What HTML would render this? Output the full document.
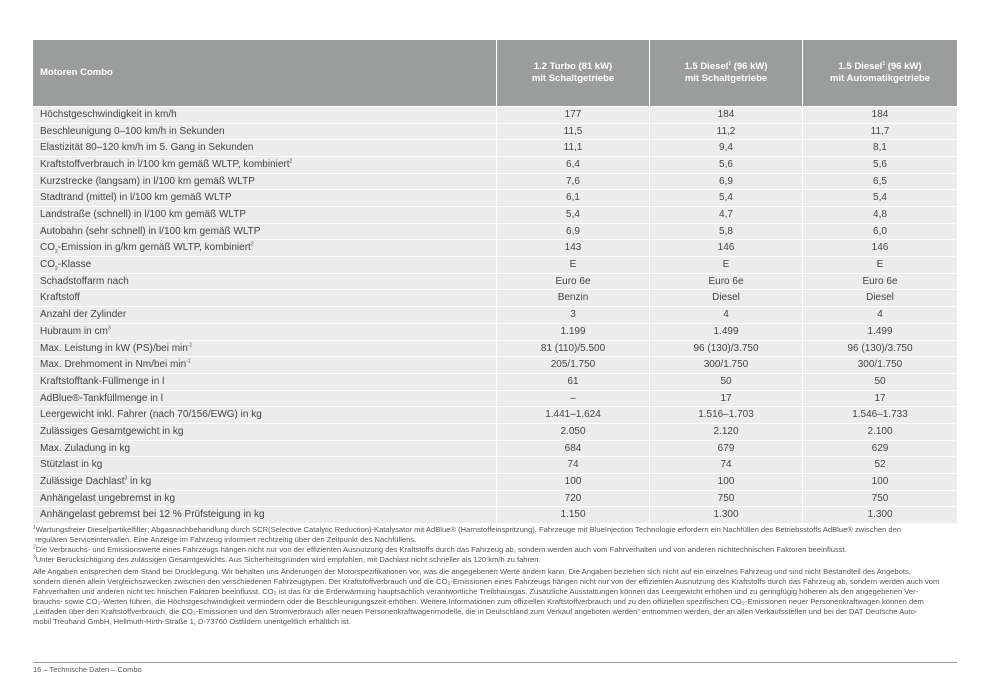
<!DOCTYPE html>
<html><head><meta charset="utf-8"><style>
body{margin:0;width:990px;height:700px;background:#fff;font-family:"Liberation Sans",sans-serif;position:relative;overflow:hidden;color:#444}
sup,sub{font-size:5px;line-height:0;vertical-align:super}
sub{vertical-align:sub}
.hd{position:absolute;top:40px;height:66px;background:#9b9c9c;color:#fff;font-weight:bold;font-size:9.5px;box-sizing:border-box}
.hd span{position:absolute;left:0;right:0;top:50%;transform:translateY(-50%);text-align:center;line-height:12px}
.r{position:absolute;left:33px;width:924px;height:15.7px;font-size:10px;color:#444}
.r div{position:absolute;top:0;height:15.7px;line-height:16px;background:#ececec;white-space:nowrap}
.c0{left:0;width:463px;padding-left:7px;box-sizing:border-box}
.c1{left:464px;width:152px;text-align:center}
.c2{left:617px;width:152px;text-align:center}
.c3{left:770px;width:154px;text-align:center}
.fn{position:absolute;left:33px;width:930px;font-size:7.6px;line-height:10px;color:#555;white-space:nowrap}
</style></head><body>
<div class="hd" style="left:33px;width:463px"><span style="text-align:left;padding-left:7px">Motoren Combo</span></div>
<div class="hd" style="left:497px;width:152px"><span>1.2 Turbo (81 kW)<br>mit Schaltgetriebe</span></div>
<div class="hd" style="left:650px;width:152px"><span>1.5 Diesel<sup>1</sup> (96 kW)<br>mit Schaltgetriebe</span></div>
<div class="hd" style="left:803px;width:154px"><span>1.5 Diesel<sup>1</sup> (96 kW)<br>mit Automatikgetriebe</span></div>
<div id="rows"></div>
<script>
var d=[["Höchstgeschwindigkeit in km/h","177","184","184"],
["Beschleunigung 0–100 km/h in Sekunden","11,5","11,2","11,7"],
["Elastizität 80–120 km/h im 5. Gang in Sekunden","11,1","9,4","8,1"],
["Kraftstoffverbrauch in l/100 km gemäß WLTP, kombiniert<sup>2</sup>","6,4","5,6","5,6"],
["Kurzstrecke (langsam) in l/100 km gemäß WLTP","7,6","6,9","6,5"],
["Stadtrand (mittel) in l/100 km gemäß WLTP","6,1","5,4","5,4"],
["Landstraße (schnell) in l/100 km gemäß WLTP","5,4","4,7","4,8"],
["Autobahn (sehr schnell) in l/100 km gemäß WLTP","6,9","5,8","6,0"],
["CO<sub>2</sub>-Emission in g/km gemäß WLTP, kombiniert<sup>2</sup>","143","146","146"],
["CO<sub>2</sub>-Klasse","E","E","E"],
["Schadstoffarm nach","Euro 6e","Euro 6e","Euro 6e"],
["Kraftstoff","Benzin","Diesel","Diesel"],
["Anzahl der Zylinder","3","4","4"],
["Hubraum in cm<sup>3</sup>","1.199","1.499","1.499"],
["Max. Leistung in kW (PS)/bei min<sup>-1</sup>","81 (110)/5.500","96 (130)/3.750","96 (130)/3.750"],
["Max. Drehmoment in Nm/bei min<sup>-1</sup>","205/1.750","300/1.750","300/1.750"],
["Kraftstofftank-Füllmenge in l","61","50","50"],
["AdBlue®-Tankfüllmenge in l","–","17","17"],
["Leergewicht inkl. Fahrer (nach 70/156/EWG) in kg","1.441–1.624","1.516–1.703","1.546–1.733"],
["Zulässiges Gesamtgewicht in kg","2.050","2.120","2.100"],
["Max. Zuladung in kg","684","679","629"],
["Stützlast in kg","74","74","52"],
["Zulässige Dachlast<sup>3</sup> in kg","100","100","100"],
["Anhängelast ungebremst in kg","720","750","750"],
["Anhängelast gebremst bei 12 % Prüfsteigung in kg","1.150","1.300","1.300"]];
var h="";for(var i=0;i<d.length;i++){var t=107+i*16.68;h+='<div class="r" style="top:'+t+'px"><div class="c0">'+d[i][0]+'</div><div class="c1">'+d[i][1]+'</div><div class="c2">'+d[i][2]+'</div><div class="c3">'+d[i][3]+'</div></div>';}
document.getElementById("rows").innerHTML=h;
</script>
<div class="fn" style="top:525px"><sup>1</sup>Wartungsfreier Dieselpartikelfilter; Abgasnachbehandlung durch SCR(Selective Catalytic Reduction)-Katalysator mit AdBlue® (Harnstoffeinspritzung). Fahrzeuge mit BlueInjection Technologie erfordern ein Nachfüllen des Betriebsstoffs AdBlue® zwischen den<br>&nbsp;regulären Serviceintervallen. Eine Anzeige im Fahrzeug informiert rechtzeitig über den Zeitpunkt des Nachfüllens.<br><sup>2</sup>Die Verbrauchs- und Emissionswerte eines Fahrzeugs hängen nicht nur von der effizienten Ausnutzung des Kraftstoffs durch das Fahrzeug ab, sondern werden auch vom Fahrverhalten und von anderen nichttechnischen Faktoren beeinflusst.<br><sup>3</sup>Unter Berücksichtigung des zulässigen Gesamtgewichts. Aus Sicherheitsgründen wird empfohlen, mit Dachlast nicht schneller als 120 km/h zu fahren.</div>
<div class="fn" style="top:567px">Alle Angaben entsprechen dem Stand bei Drucklegung. Wir behalten uns Änderungen der Motorspezifikationen vor, was die angegebenen Werte ändern kann. Die Angaben beziehen sich nicht auf ein einzelnes Fahrzeug und sind nicht Bestandteil des Angebots,<br>sondern dienen allein Vergleichszwecken zwischen den verschiedenen Fahrzeugtypen. Der Kraftstoffverbrauch und die CO₂-Emissionen eines Fahrzeugs hängen nicht nur von der effizienten Ausnutzung des Kraftstoffs durch das Fahrzeug ab, sondern werden auch vom<br>Fahrverhalten und anderen nicht tec hnischen Faktoren beeinflusst. CO₂ ist das für die Erderwärmung hauptsächlich verantwortliche Treibhausgas. Zusätzliche Ausstattungen können das Leergewicht erhöhen und zu geringfügig höheren als den angegebenen Ver-<br>brauchs- sowie CO₂-Werten führen, die Höchstgeschwindigkeit vermindern oder die Beschleunigungszeit erhöhen. Weitere Informationen zum offiziellen Kraftstoffverbrauch und zu den offiziellen spezifischen CO₂-Emissionen neuer Personenkraftwagen können dem<br>„Leitfaden über den Kraftstoffverbrauch, die CO₂-Emissionen und den Stromverbrauch aller neuen Personenkraftwagenmodelle, die in Deutschland zum Verkauf angeboten werden“ entnommen werden, der an allen Verkaufsstellen und bei der DAT Deutsche Auto-<br>mobil Treuhand GmbH, Hellmuth-Hirth-Straße 1, D-73760 Ostfildern unentgeltlich erhältlich ist.</div>
<div style="position:absolute;left:33px;top:662px;width:924px;height:1px;background:#999"></div>
<div class="fn" style="top:665px;font-size:7.5px">16 – Technische Daten – Combo</div>
</body></html>
